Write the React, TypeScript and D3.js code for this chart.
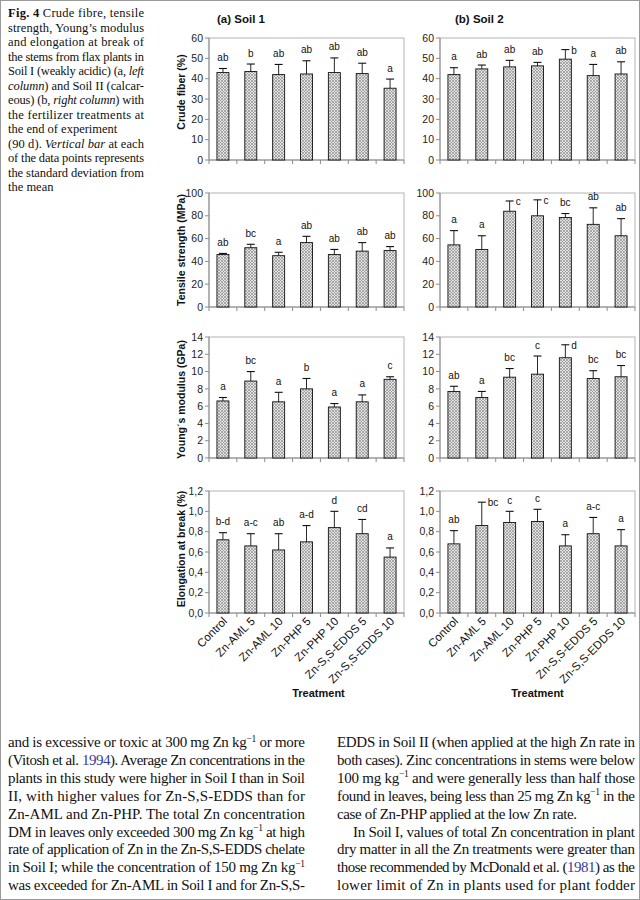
import React from 'react';
import * as d3 from 'd3';

// ---------- DATA ----------
const treatments = ['Control', 'Zn-AML 5', 'Zn-AML 10', 'Zn-PHP 5', 'Zn-PHP 10', 'Zn-S,S-EDDS 5', 'Zn-S,S-EDDS 10'];

const soil1Crude = [43, 43.5, 42, 42.3, 43, 42.5, 35.3];
const soil1CrudeSd = [2, 3.7, 5, 6.5, 7.2, 5.1, 4.5];
const soil1CrudeLetters = ['ab', 'b', 'ab', 'ab', 'ab', 'ab', 'a'];

const soil2Crude = [42, 44.8, 45.8, 46.3, 49.6, 41.5, 42.3];
const soil2CrudeSd = [3.4, 1.9, 3.2, 1.7, 4.7, 5.5, 6.0];
const soil2CrudeLetters = ['a', 'ab', 'ab', 'ab', 'b', 'a', 'ab'];

const soil1Tensile = [46, 52, 45, 56.5, 46, 49, 49.5];
const soil1TensileSd = [1, 3, 3, 5.5, 4.5, 7.5, 3.5];
const soil1TensileLetters = ['ab', 'bc', 'a', 'ab', 'ab', 'ab', 'ab'];

const soil2Tensile = [54.5, 50.5, 84, 80, 78.5, 72.5, 62.5];
const soil2TensileSd = [12.5, 12, 9, 14, 3.5, 14.5, 15];
const soil2TensileLetters = ['a', 'a', 'c', 'c', 'bc', 'ab', 'ab'];

const soil1Young = [6.6, 8.9, 6.5, 8.0, 5.9, 6.5, 9.1];
const soil1YoungSd = [0.4, 1.1, 1.1, 1.2, 0.4, 0.8, 0.3];
const soil1YoungLetters = ['a', 'bc', 'a', 'b', 'a', 'a', 'c'];

const soil2Young = [7.7, 7.0, 9.35, 9.7, 11.6, 9.2, 9.4];
const soil2YoungSd = [0.6, 0.7, 1.0, 2.1, 1.5, 0.9, 1.3];
const soil2YoungLetters = ['ab', 'a', 'bc', 'c', 'd', 'bc', 'bc'];

const soil1Elong = [0.72, 0.66, 0.62, 0.70, 0.84, 0.78, 0.55];
const soil1ElongSd = [0.07, 0.12, 0.16, 0.16, 0.16, 0.14, 0.09];
const soil1ElongLetters = ['b-d', 'a-c', 'ab', 'a-d', 'd', 'cd', 'a'];

const soil2Elong = [0.68, 0.86, 0.89, 0.90, 0.66, 0.78, 0.66];
const soil2ElongSd = [0.13, 0.23, 0.11, 0.12, 0.11, 0.16, 0.16];
const soil2ElongLetters = ['ab', 'bc', 'c', 'c', 'a', 'a-c', 'a'];

const crudeTicks = [0, 10, 20, 30, 40, 50, 60];
const tensileTicks = [0, 20, 40, 60, 80, 100];
const youngTicks = [0, 2, 4, 6, 8, 10, 12, 14];
const elongTicks = [0, 0.2, 0.4, 0.6, 0.8, 1.0, 1.2];

const yTitles = ['Crude fiber (%)', 'Tensile strength (MPa)', 'Young\u00b4s modulus (GPa)', 'Elongation at break (%)'];
const panelTitles = ['(a) Soil 1', '(b) Soil 2'];
const xTitle = 'Treatment';

type Seg = { t: string; i?: boolean; b?: boolean; sup?: boolean; blue?: boolean };

const captionLines: Seg[][] = [
  [{ t: 'Fig. 4', b: true }, { t: ' Crude fibre, tensile' }],
  [{ t: 'strength, Young\u2019s modulus' }],
  [{ t: 'and elongation at break of' }],
  [{ t: 'the stems from flax plants in' }],
  [{ t: 'Soil I (weakly acidic) (a, ' }, { t: 'left', i: true }],
  [{ t: 'column', i: true }, { t: ') and Soil II (calcar-' }],
  [{ t: 'eous) (b, ' }, { t: 'right column', i: true }, { t: ') with' }],
  [{ t: 'the fertilizer treatments at' }],
  [{ t: 'the end of experiment' }],
  [{ t: '(90 d). ' }, { t: 'Vertical bar', i: true }, { t: ' at each' }],
  [{ t: 'of the data points represents' }],
  [{ t: 'the standard deviation from' }],
  [{ t: 'the mean' }],
];
const captionJustify = [true, true, true, true, true, true, true, true, false, true, true, true, false];

const leftBody: Seg[][] = [
  [{ t: 'and is excessive or toxic at 300 mg Zn kg' }, { t: '\u22121', sup: true }, { t: ' or more' }],
  [{ t: '(Vitosh et al. ' }, { t: '1994', blue: true }, { t: '). Average Zn concentrations in the' }],
  [{ t: 'plants in this study were higher in Soil I than in Soil' }],
  [{ t: 'II, with higher values for Zn-S,S-EDDS than for' }],
  [{ t: 'Zn-AML and Zn-PHP. The total Zn concentration' }],
  [{ t: 'DM in leaves only exceeded 300 mg Zn kg' }, { t: '\u22121', sup: true }, { t: ' at high' }],
  [{ t: 'rate of application of Zn in the Zn-S,S-EDDS chelate' }],
  [{ t: 'in Soil I; while the concentration of 150 mg Zn kg' }, { t: '\u22121', sup: true }],
  [{ t: 'was exceeded for Zn-AML in Soil I and for Zn-S,S-' }],
];

const rightBody: Seg[][] = [
  [{ t: 'EDDS in Soil II (when applied at the high Zn rate in' }],
  [{ t: 'both cases). Zinc concentrations in stems were below' }],
  [{ t: '100 mg kg' }, { t: '\u22121', sup: true }, { t: ' and were generally less than half those' }],
  [{ t: 'found in leaves, being less than 25 mg Zn kg' }, { t: '\u22121', sup: true }, { t: ' in the' }],
  [{ t: 'case of Zn-PHP applied at the low Zn rate.' }],
  [{ t: 'In Soil I, values of total Zn concentration in plant' }],
  [{ t: 'dry matter in all the Zn treatments were greater than' }],
  [{ t: 'those recommended by McDonald et al. (' }, { t: '1981', blue: true }, { t: ') as the' }],
  [{ t: 'lower limit of Zn in plants used for plant fodder' }],
];
const rightIndent = [false, false, false, false, false, true, false, false, false];
const rightShortLine = [false, false, false, false, true, false, false, false, false];

// ---------- LAYOUT ----------
const SANS = '"Liberation Sans", Arial, Helvetica, sans-serif';
const SERIF = '"Liberation Serif", "Times New Roman", Times, serif';

const colX = [
  { left: 209, right: 404 },
  { left: 440, right: 635 },
];
const rowY = [
  { top: 38, bottom: 160 },
  { top: 193, bottom: 307 },
  { top: 337, bottom: 458 },
  { top: 491, bottom: 613 },
];
const yTitleShift = [-7, 0, 2, -3];

function renderSegs(segs: Seg[], supSize: number, rise: number) {
  const out: any[] = [];
  let raised = false;
  segs.forEach((s, k) => {
    let dy: number | undefined;
    if (s.sup && !raised) { dy = -rise; raised = true; }
    else if (!s.sup && raised) { dy = rise; raised = false; }
    out.push(
      <tspan key={k} dy={dy} fontSize={s.sup ? supSize : undefined}
        fontStyle={s.i ? 'italic' : undefined} fontWeight={s.b ? 'bold' : undefined}
        fill={s.blue ? '#3a3a9c' : undefined}>{s.t}</tspan>
    );
  });
  return out;
}

interface PanelProps {
  left: number; right: number; top: number; bottom: number;
  ticks: number[]; values: number[]; sd: number[]; letters: string[];
  fmt: (v: number) => string; showX: boolean;
}

function Panel({ left, right, top, bottom, ticks, values, sd, letters, fmt, showX }: PanelProps) {
  const x = d3.scaleBand<string>().domain(treatments).range([left, right]).paddingInner(0.57).paddingOuter(0.285);
  const y = d3.scaleLinear().domain([0, ticks[ticks.length - 1]]).range([bottom, top]);
  const bw = x.bandwidth();
  const step = x.step();
  return (
    <g>
      <rect x={left} y={top} width={right - left} height={bottom - top} fill="none" stroke="#b4b4b4" strokeWidth={1} />
      <line x1={left} x2={left} y1={top} y2={bottom} stroke="#8c8c8c" />
      <line x1={left} x2={right} y1={bottom} y2={bottom} stroke="#8c8c8c" />
      {ticks.map((t, k) => (
        <g key={k}>
          <line x1={left - 4} x2={left} y1={y(t)} y2={y(t)} stroke="#8c8c8c" />
          <text x={left - 6} y={y(t)} dy="0.35em" textAnchor="end" fontSize={10.5} fontFamily={SANS} fill="#222">{fmt(t)}</text>
        </g>
      ))}
      {d3.range(treatments.length + 1).map((k) => (
        <line key={k} x1={left + k * step} x2={left + k * step} y1={bottom} y2={bottom + 4} stroke="#8c8c8c" />
      ))}
      {treatments.map((tr, k) => {
        const cx = (x(tr) as number) + bw / 2;
        const yTop = y(values[k]);
        const yCap = y(values[k] + sd[k]);
        const above = yCap - 14 >= top - 1;
        return (
          <g key={tr}>
            <rect x={x(tr)} y={yTop} width={bw} height={bottom - yTop} fill="url(#hatch)" stroke="#111" strokeWidth={0.9} />
            <line x1={cx} x2={cx} y1={yTop} y2={yCap} stroke="#111" strokeWidth={0.9} />
            <line x1={cx - 4} x2={cx + 4} y1={yCap} y2={yCap} stroke="#111" strokeWidth={1.1} />
            {above ? (
              <text x={cx} y={yCap - 7.5} textAnchor="middle" fontSize={10} fontFamily={SANS} fill="#111">{letters[k]}</text>
            ) : (
              <text x={cx + 6} y={yCap + 4} textAnchor="start" fontSize={10} fontFamily={SANS} fill="#111">{letters[k]}</text>
            )}
            {showX && (
              <text transform={`translate(${cx + 5},${bottom + 9}) rotate(-45)`} textAnchor="end" fontSize={11.5} fontFamily={SANS} fill="#111">{tr}</text>
            )}
          </g>
        );
      })}
    </g>
  );
}

const fmtInt = (v: number) => d3.format('d')(v);
const fmtDec = (v: number) => d3.format('.1f')(v).replace('.', ',');

export default function App() {
  const rows = [
    { ticks: crudeTicks, fmt: fmtInt, s1: [soil1Crude, soil1CrudeSd, soil1CrudeLetters], s2: [soil2Crude, soil2CrudeSd, soil2CrudeLetters] },
    { ticks: tensileTicks, fmt: fmtInt, s1: [soil1Tensile, soil1TensileSd, soil1TensileLetters], s2: [soil2Tensile, soil2TensileSd, soil2TensileLetters] },
    { ticks: youngTicks, fmt: fmtInt, s1: [soil1Young, soil1YoungSd, soil1YoungLetters], s2: [soil2Young, soil2YoungSd, soil2YoungLetters] },
    { ticks: elongTicks, fmt: fmtDec, s1: [soil1Elong, soil1ElongSd, soil1ElongLetters], s2: [soil2Elong, soil2ElongSd, soil2ElongLetters] },
  ];
  return (
    <svg width={640} height={900} style={{ position: 'absolute', left: 0, top: 0, background: '#fff' }}>
      <defs>
        <pattern id="hatch" width={3} height={3} patternUnits="userSpaceOnUse">
          <rect width={3} height={3} fill="#e4e4e4" />
          <path d="M0,0 L3,3 M3,0 L0,3" stroke="#8e8e8e" strokeWidth={0.7} />
        </pattern>
      </defs>
      <rect x={0} y={0} width={640} height={900} fill="#fff" />
      <rect x={0.5} y={0.5} width={639} height={899} fill="none" stroke="#9a9a9a" />

      {/* caption */}
      {captionLines.map((segs, k) => (
        <text key={k} x={8} y={17 + k * 14.5} fontSize={12.5} fontFamily={SERIF} fill="#111"
          textLength={captionJustify[k] ? 136 : undefined} lengthAdjust="spacing">
          {renderSegs(segs, 8, 4)}
        </text>
      ))}

      {/* panel titles */}
      {panelTitles.map((t, k) => (
        <text key={t} x={colX[k].left + (k === 0 ? 8 : 15)} y={23} fontSize={11.5} fontWeight="bold" fontFamily={SANS} fill="#111">{t}</text>
      ))}

      {/* y titles */}
      {yTitles.map((t, k) => (
        <text key={t} transform={`translate(185,${(rowY[k].top + rowY[k].bottom) / 2 + yTitleShift[k]}) rotate(-90)`} textAnchor="middle"
          fontSize={10.5} fontWeight="bold" fontFamily={SANS} fill="#111">{t}</text>
      ))}

      {rows.map((r, ri) => (
        <g key={ri}>
          {[r.s1, r.s2].map((s, ci) => (
            <Panel key={ci} left={colX[ci].left} right={colX[ci].right} top={rowY[ri].top} bottom={rowY[ri].bottom}
              ticks={r.ticks} fmt={r.fmt} values={s[0] as number[]} sd={s[1] as number[]} letters={s[2] as string[]} showX={ri === 3} />
          ))}
        </g>
      ))}

      {colX.map((c, k) => (
        <text key={k} x={(c.left + c.right) / 2 + (k === 0 ? 12 : 0)} y={697} textAnchor="middle" fontSize={11} fontWeight="bold" fontFamily={SANS} fill="#111">{xTitle}</text>
      ))}

      {/* body text */}
      {leftBody.map((segs, k) => (
        <text key={'l' + k} x={8} y={747 + k * 17.9} fontSize={15} fontFamily={SERIF} fill="#111"
          textLength={297} lengthAdjust="spacing">
          {renderSegs(segs, 9.5, 5.5)}
        </text>
      ))}
      {rightBody.map((segs, k) => (
        <text key={'r' + k} x={rightIndent[k] ? 353 : 337} y={747 + k * 17.9} fontSize={15} fontFamily={SERIF} fill="#111"
          textLength={rightShortLine[k] ? 240 : rightIndent[k] ? 282 : 298} lengthAdjust="spacing">
          {renderSegs(segs, 9.5, 5.5)}
        </text>
      ))}
    </svg>
  );
}
